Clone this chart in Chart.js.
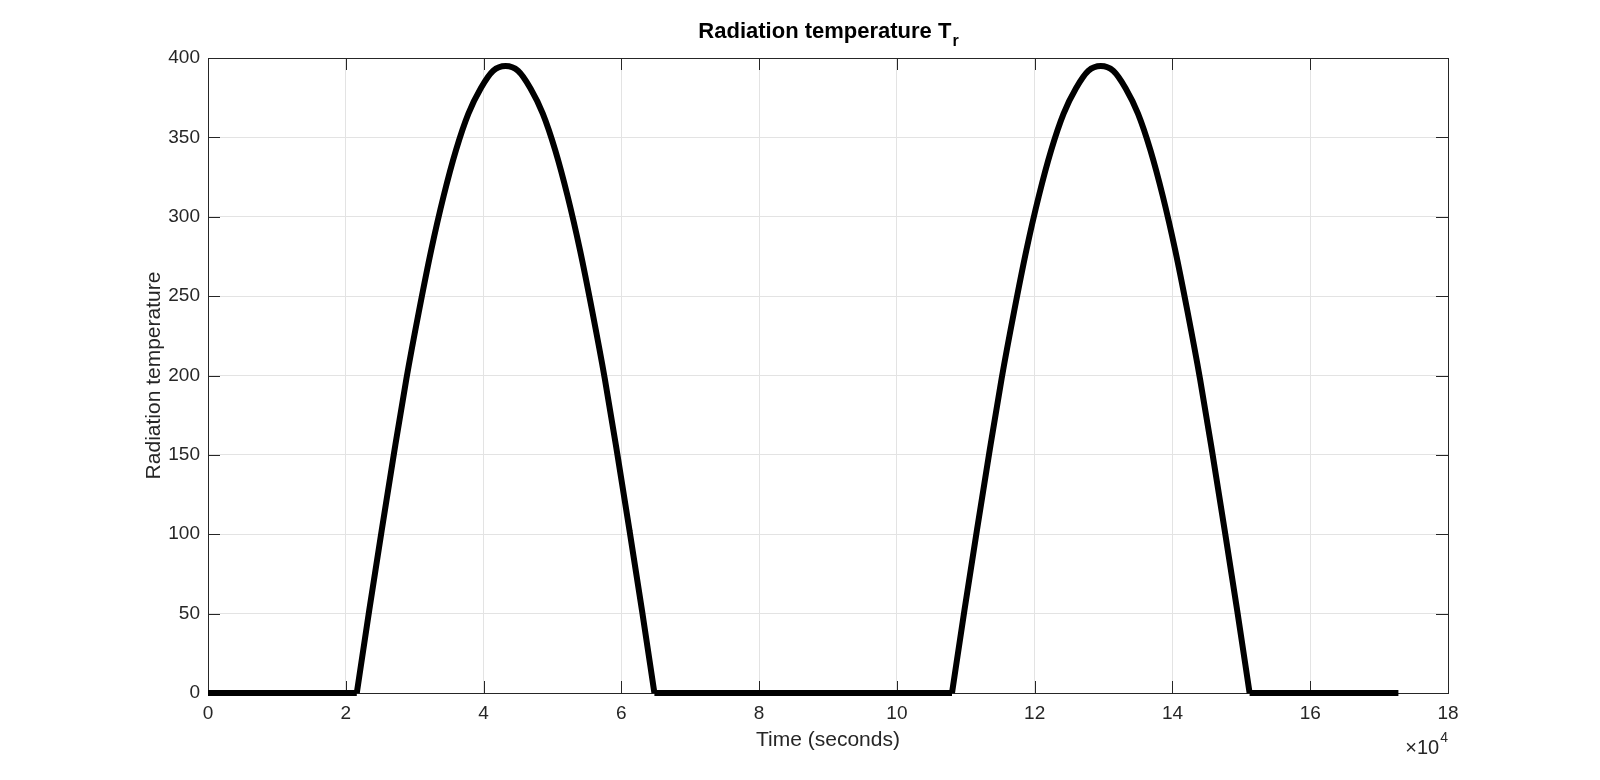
<!DOCTYPE html>
<html lang="en">
<head>
<meta charset="UTF-8">
<title>Radiation temperature</title>
<style>
  body { margin: 0; background: #fff; }
  #wrap { width: 1600px; height: 780px; }
</style>
</head>
<body>
<div id="wrap"><canvas id="chart" width="1600" height="780"></canvas></div>
<script src="https://cdn.jsdelivr.net/npm/chart.js@4"></script>
<script>
// time (s) and radiation temperature
const timeSec = [
  0,
  21600, 23400, 25200, 27000, 28800, 30600, 32400, 34200, 36000, 37800, 39600, 41400, 43200,
  45000, 46800, 48600, 50400, 52200, 54000, 55800, 57600, 59400, 61200, 63000, 64800,
  108000, 109800, 111600, 113400, 115200, 117000, 118800, 120600, 122400, 124200, 126000, 127800, 129600,
  131400, 133200, 135000, 136800, 138600, 140400, 142200, 144000, 145800, 147600, 149400, 151200,
  172800
];
const tempTr = [
  0,
  0, 52, 102, 151, 198, 240, 279, 313, 342, 365, 381, 392, 395,
  392, 381, 365, 342, 313, 279, 240, 198, 151, 102, 52, 0,
  0, 52, 102, 151, 198, 240, 279, 313, 342, 365, 381, 392, 395,
  392, 381, 365, 342, 313, 279, 240, 198, 151, 102, 52, 0,
  0
];
const xTicks = [0, 20000, 40000, 60000, 80000, 100000, 120000, 140000, 160000, 180000];
const yTicks = [0, 50, 100, 150, 200, 250, 300, 350, 400];

const FONT = "'Liberation Sans', Arial, Helvetica, sans-serif";
const AXIS = '#262626';

// split the series into the curved daytime arcs and the straight night parts,
// so the smoothing does not round off the sharp corners at sunrise / sunset
function segments(linked) {
  const out = [];
  for (let i = 0; i < timeSec.length; i++) {
    if (i > 0 && !linked(i - 1, i)) out.push({ x: timeSec[i], y: null });
    out.push({ x: timeSec[i], y: tempTr[i] });
  }
  return out;
}
const dayLink = (a, b) => tempTr[a] > 0 || tempTr[b] > 0;
const nightLink = (a, b) => tempTr[a] === 0 && tempTr[b] === 0;

// frame, inward ticks, title and labels in the MATLAB look
const matlabAxes = {
  id: 'matlabAxes',
  beforeDatasetsDraw(chart) {
    const { ctx, chartArea: a, scales } = chart;
    const tl = 12;
    ctx.save();
    ctx.strokeStyle = AXIS;
    ctx.lineWidth = 1;
    ctx.beginPath();
    xTicks.forEach(v => {
      const x = Math.round(scales.x.getPixelForValue(v)) + 0.5;
      ctx.moveTo(x, a.bottom); ctx.lineTo(x, a.bottom - tl);
      ctx.moveTo(x, a.top); ctx.lineTo(x, a.top + tl);
    });
    yTicks.forEach(v => {
      const y = Math.round(scales.y.getPixelForValue(v)) + 0.5;
      ctx.moveTo(a.left, y); ctx.lineTo(a.left + tl, y);
      ctx.moveTo(a.right, y); ctx.lineTo(a.right - tl, y);
    });
    ctx.stroke();
    ctx.strokeRect(Math.round(a.left) + 0.5, Math.round(a.top) + 0.5,
      Math.round(a.right - a.left), Math.round(a.bottom - a.top));
    ctx.restore();
  },
  afterDraw(chart) {
    const { ctx, chartArea: a } = chart;
    const cx = (a.left + a.right) / 2;
    ctx.save();
    ctx.fillStyle = '#000';
    ctx.textBaseline = 'alphabetic';

    // title with subscript
    ctx.font = 'bold 22px ' + FONT;
    const main = 'Radiation temperature T';
    const wMain = ctx.measureText(main).width;
    ctx.font = 'bold 16px ' + FONT;
    const wSub = ctx.measureText('r').width;
    const x0 = cx - (wMain + wSub) / 2;
    ctx.font = 'bold 22px ' + FONT;
    ctx.textAlign = 'left';
    ctx.fillText(main, x0, 38);
    ctx.font = 'bold 16px ' + FONT;
    ctx.fillText('r', x0 + wMain + 1, 46);

    // axis labels
    ctx.fillStyle = AXIS;
    ctx.font = '21px ' + FONT;
    ctx.textAlign = 'center';
    ctx.fillText('Time (seconds)', cx, 746);
    ctx.save();
    ctx.translate(160, (a.top + a.bottom) / 2);
    ctx.rotate(-Math.PI / 2);
    ctx.fillText('Radiation temperature', 0, 0);
    ctx.restore();

    // exponent
    ctx.textAlign = 'right';
    ctx.font = '14px ' + FONT;
    const w4 = ctx.measureText('4').width;
    ctx.fillText('4', a.right, 742);
    ctx.font = '20px ' + FONT;
    ctx.fillText('\u00d710', a.right - w4 - 1, 754);
    ctx.restore();
  }
};

const lineStyle = {
  showLine: true,
  borderColor: '#000',
  borderWidth: 6,
  borderJoinStyle: 'round',
  pointRadius: 0,
  spanGaps: false,
  clip: 10
};

new Chart(document.getElementById('chart'), {
  type: 'scatter',
  data: {
    datasets: [
      Object.assign({ data: segments(nightLink), tension: 0 }, lineStyle),
      Object.assign({ data: segments(dayLink), tension: 0.4, cubicInterpolationMode: 'monotone' }, lineStyle)
    ]
  },
  options: {
    responsive: false,
    animation: false,
    layout: { padding: { left: 0, top: 58, right: 152, bottom: 0 } },
    plugins: { legend: { display: false }, title: { display: false }, tooltip: { enabled: false } },
    scales: {
      x: {
        type: 'linear', min: 0, max: 180000,
        afterBuildTicks: s => { s.ticks = xTicks.map(v => ({ value: v })); },
        afterFit: s => { s.height = 87; },
        grid: { color: '#e3e3e3', drawTicks: false },
        border: { display: false },
        ticks: { padding: 9, color: AXIS, font: { family: FONT, size: 19 }, callback: v => v / 10000, maxRotation: 0 }
      },
      y: {
        type: 'linear', min: 0, max: 400,
        afterBuildTicks: s => { s.ticks = yTicks.map(v => ({ value: v })); },
        afterFit: s => { s.width = 208; },
        grid: { color: '#e3e3e3', drawTicks: false },
        border: { display: false },
        ticks: { padding: 8, color: AXIS, font: { family: FONT, size: 19 } }
      }
    }
  },
  plugins: [matlabAxes]
});
</script>
</body>
</html>
